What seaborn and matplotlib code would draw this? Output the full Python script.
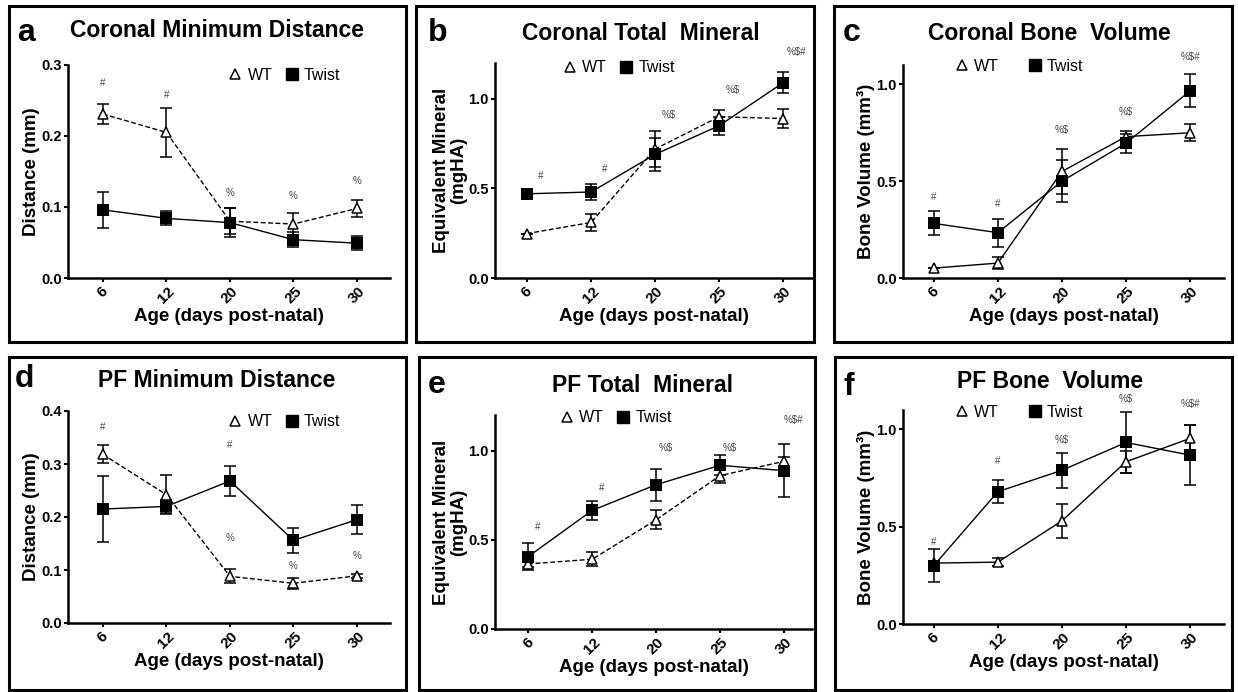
import numpy as np
import matplotlib.pyplot as plt
import seaborn as sns
from matplotlib.lines import Line2D
from matplotlib.patches import Rectangle

sns.set_style("ticks")
plt.rcParams["font.family"] = ["Liberation Sans", "DejaVu Sans"]
plt.rcParams["text.color"] = "black"
plt.rcParams["axes.labelcolor"] = "black"
plt.rcParams["xtick.color"] = "black"
plt.rcParams["ytick.color"] = "black"
plt.rcParams["axes.edgecolor"] = "black"

# 1. DATA (mean +/- error)

ages = ["6", "12", "20", "25", "30"]

# a. Coronal minimum distance (mm)
cor_dist_wt = [0.231, 0.205, 0.080, 0.076, 0.098]
cor_dist_wt_err = [0.014, 0.034, 0.018, 0.016, 0.012]
cor_dist_tw = [0.096, 0.084, 0.078, 0.054, 0.049]
cor_dist_tw_err = [0.025, 0.010, 0.020, 0.011, 0.010]
cor_dist_mark_idx = [0, 1, 2, 3, 4]
cor_dist_marks = ["#", "#", "%", "%", "%"]
cor_dist_mark_y = [0.275, 0.258, 0.120, 0.115, 0.137]

# b. Coronal total mineral (mgHA)
cor_min_wt = [0.248, 0.310, 0.720, 0.900, 0.890]
cor_min_wt_err = [0.0, 0.045, 0.100, 0.040, 0.055]
cor_min_tw = [0.470, 0.480, 0.690, 0.850, 1.090]
cor_min_tw_err = [0.0, 0.045, 0.090, 0.050, 0.060]
cor_min_mark_idx = [0, 1, 2, 3, 4]
cor_min_marks = ["#", "#", "%$", "%$", "%$#"]
cor_min_mark_y = [0.567, 0.606, 0.910, 1.050, 1.260]

# c. Coronal bone volume (mm3)
cor_bv_wt = [0.051, 0.077, 0.550, 0.730, 0.750]
cor_bv_wt_err = [0.0, 0.030, 0.115, 0.030, 0.045]
cor_bv_tw = [0.282, 0.234, 0.500, 0.696, 0.966]
cor_bv_tw_err = [0.062, 0.072, 0.110, 0.050, 0.085]
cor_bv_mark_idx = [0, 1, 2, 3, 4]
cor_bv_marks = ["#", "#", "%$", "%$", "%$#"]
cor_bv_mark_y = [0.420, 0.380, 0.764, 0.855, 1.140]

# d. PF minimum distance (mm)
pf_dist_wt = [0.318, 0.242, 0.088, 0.075, 0.089]
pf_dist_wt_err = [0.017, 0.037, 0.013, 0.010, 0.004]
pf_dist_tw = [0.215, 0.220, 0.268, 0.156, 0.195]
pf_dist_tw_err = [0.063, 0.012, 0.029, 0.023, 0.028]
pf_dist_mark_idx = [0, 2, 2, 3, 4]
pf_dist_marks = ["#", "#", "%", "%", "%"]
pf_dist_mark_y = [0.369, 0.336, 0.161, 0.107, 0.127]

# e. PF total mineral (mgHA)
pf_min_wt = [0.365, 0.391, 0.612, 0.860, 0.940]
pf_min_wt_err = [0.015, 0.040, 0.053, 0.040, 0.025]
pf_min_tw = [0.406, 0.665, 0.809, 0.918, 0.888]
pf_min_tw_err = [0.075, 0.055, 0.090, 0.055, 0.147]
pf_min_mark_idx = [0, 1, 2, 3, 4]
pf_min_marks = ["#", "#", "%$", "%$", "%$#"]
pf_min_mark_y = [0.570, 0.790, 1.015, 1.015, 1.174]

# f. PF bone volume (mm3)
pf_bv_wt = [0.313, 0.318, 0.530, 0.834, 0.954]
pf_bv_wt_err = [0.0, 0.020, 0.088, 0.057, 0.068]
pf_bv_tw = [0.300, 0.680, 0.790, 0.933, 0.868]
pf_bv_tw_err = [0.085, 0.060, 0.090, 0.155, 0.155]
pf_bv_mark_idx = [0, 1, 2, 3, 4]
pf_bv_marks = ["#", "#", "%$", "%$", "%$#"]
pf_bv_mark_y = [0.424, 0.838, 0.945, 1.154, 1.133]


# 2. FIGURE + LAYOUT (pixel based)

W, H = 1238, 692
fig = plt.figure(figsize=(W / 100, H / 100), dpi=100)


def px_axes(l, t, r, b):
    return fig.add_axes([l / W, 1 - b / H, (r - l) / W, (b - t) / H])


def px_box(l, t, r, b):
    fig.add_artist(Rectangle((l / W, 1 - b / H), (r - l) / W, (b - t) / H,
                             transform=fig.transFigure, fill=False,
                             edgecolor="black", linewidth=2.2))


def panel(ax, wt, wt_err, tw, tw_err, mark_idx, marks, mark_y,
          ylim, yticks, ylabel, wt_dashed, xlim, leg_pos, leg_gap, mark_dx):
    wt_ls = (0, (3.5, 1.8)) if wt_dashed else "-"
    x = np.arange(len(ages))

    sns.pointplot(x=ages, y=wt, errorbar=None, color="black", ax=ax,
                  marker="^", linestyle=wt_ls, markersize=7.5,
                  markerfacecolor="white", markeredgecolor="black",
                  markeredgewidth=1.1, linewidth=1.0, zorder=3)
    ax.errorbar(x, wt, yerr=wt_err, fmt="none", ecolor="black",
                elinewidth=1.1, capsize=4, capthick=1.1, zorder=2)

    sns.pointplot(x=ages, y=tw, errorbar=None, color="black", ax=ax,
                  marker="s", linestyle="-", markersize=8.5,
                  markeredgewidth=0, linewidth=1.0, zorder=4)
    ax.errorbar(x, tw, yerr=tw_err, fmt="none", ecolor="black",
                elinewidth=1.1, capsize=4, capthick=1.1, zorder=2)

    for i, txt, y in zip(mark_idx, marks, mark_y):
        ax.text(i + mark_dx, y, txt, ha="center", va="center",
                fontsize=7, color="#444444", clip_on=False)

    ax.set_xlim(*xlim)
    ax.set_ylim(*ylim)
    ax.set_yticks(yticks)
    ax.set_yticklabels([f"{v:.1f}" for v in yticks], fontweight="bold",
                       fontsize=10.5)
    ax.set_xticks(x)
    ax.set_xticklabels(ages, rotation=45, fontweight="bold", fontsize=11)
    ax.tick_params(axis="both", direction="out", length=3, width=1.5,
                   pad=1.5)
    ax.set_xlabel("Age (days post-natal)", fontweight="bold", fontsize=13.5,
                  labelpad=1)
    ax.set_ylabel(ylabel, fontweight="bold", fontsize=13.5, labelpad=0.5,
                  linespacing=1.0)
    sns.despine(ax=ax)
    for s in ["left", "bottom"]:
        ax.spines[s].set_linewidth(1.8)

    handles = [
        Line2D([], [], marker="^", ls="none", color="black",
               markerfacecolor="white", markersize=7.5, markeredgewidth=1.1),
        Line2D([], [], marker="s", ls="none", color="black", markersize=8.5),
    ]
    ax.legend(handles, ["WT", "Twist"], loc="center", bbox_to_anchor=leg_pos,
              ncol=2, frameon=False, fontsize=11.5, handlelength=1.0,
              handletextpad=0.25, columnspacing=leg_gap, borderaxespad=0)


# 3. PANELS

ax_a = px_axes(68, 65, 390, 278)
panel(ax_a, cor_dist_wt, cor_dist_wt_err, cor_dist_tw, cor_dist_tw_err,
      cor_dist_mark_idx, cor_dist_marks, cor_dist_mark_y,
      (0, 0.3), [0.0, 0.1, 0.2, 0.3], "Distance (mm)", True,
      (-0.55, 4.52), (0.67, 0.953), 0.7, 0.0)

ax_b = px_axes(495, 63, 812, 278)
panel(ax_b, cor_min_wt, cor_min_wt_err, cor_min_tw, cor_min_tw_err,
      cor_min_mark_idx, cor_min_marks, cor_min_mark_y,
      (0, 1.2), [0.0, 0.5, 1.0], "Equivalent Mineral\n(mgHA)", True,
      (-0.5, 4.45), (0.39, 0.977), 0.7, 0.21)

ax_c = px_axes(903, 65, 1224, 278)
panel(ax_c, cor_bv_wt, cor_bv_wt_err, cor_bv_tw, cor_bv_tw_err,
      cor_bv_mark_idx, cor_bv_marks, cor_bv_mark_y,
      (0, 1.1), [0.0, 0.5, 1.0], "Bone Volume (mm\u00b3)", False,
      (-0.48, 4.53), (0.36, 0.995), 1.8, 0.0)

ax_d = px_axes(68, 411, 390, 623)
panel(ax_d, pf_dist_wt, pf_dist_wt_err, pf_dist_tw, pf_dist_tw_err,
      pf_dist_mark_idx, pf_dist_marks, pf_dist_mark_y,
      (0, 0.4), [0.0, 0.1, 0.2, 0.3, 0.4], "Distance (mm)", True,
      (-0.55, 4.52), (0.67, 0.95), 0.7, 0.0)

ax_e = px_axes(495, 415, 812, 629)
panel(ax_e, pf_min_wt, pf_min_wt_err, pf_min_tw, pf_min_tw_err,
      pf_min_mark_idx, pf_min_marks, pf_min_mark_y,
      (0, 1.2), [0.0, 0.5, 1.0], "Equivalent Mineral\n(mgHA)", True,
      (-0.52, 4.44), (0.38, 0.986), 0.7, 0.15)

ax_f = px_axes(903, 410, 1224, 624)
panel(ax_f, pf_bv_wt, pf_bv_wt_err, pf_bv_tw, pf_bv_tw_err,
      pf_bv_mark_idx, pf_bv_marks, pf_bv_mark_y,
      (0, 1.1), [0.0, 0.5, 1.0], "Bone Volume (mm\u00b3)", False,
      (-0.48, 4.53), (0.36, 0.99), 1.8, 0.0)

# 4. BOXES, LETTERS, TITLES

for box in [(9, 6, 406, 342), (416, 6, 814, 342), (834, 6, 1232, 342),
            (9, 357, 406, 690), (419, 357, 815, 690), (835, 357, 1232, 690)]:
    px_box(*box)

letters = ["a", "b", "c", "d", "e", "f"]
letter_xy = [(17, 41), (428, 41), (843, 41), (15, 387), (428, 393), (843, 395)]
titles = ["Coronal Minimum Distance", "Coronal Total  Mineral",
          "Coronal Bone  Volume", "PF Minimum Distance",
          "PF Total  Mineral", "PF Bone  Volume"]
title_xy = [(217, 37), (641, 40), (1049, 40), (217, 387), (643, 392),
            (1050, 388)]

for lt, (lx, ly), tt, (tx, ty) in zip(letters, letter_xy, titles, title_xy):
    fig.text(lx / W, 1 - ly / H, lt, fontsize=23, fontweight="bold",
             ha="left", va="baseline")
    fig.text(tx / W, 1 - ty / H, tt, fontsize=16.5, fontweight="bold",
             ha="center", va="baseline")

plt.savefig("out.png", dpi=100)
